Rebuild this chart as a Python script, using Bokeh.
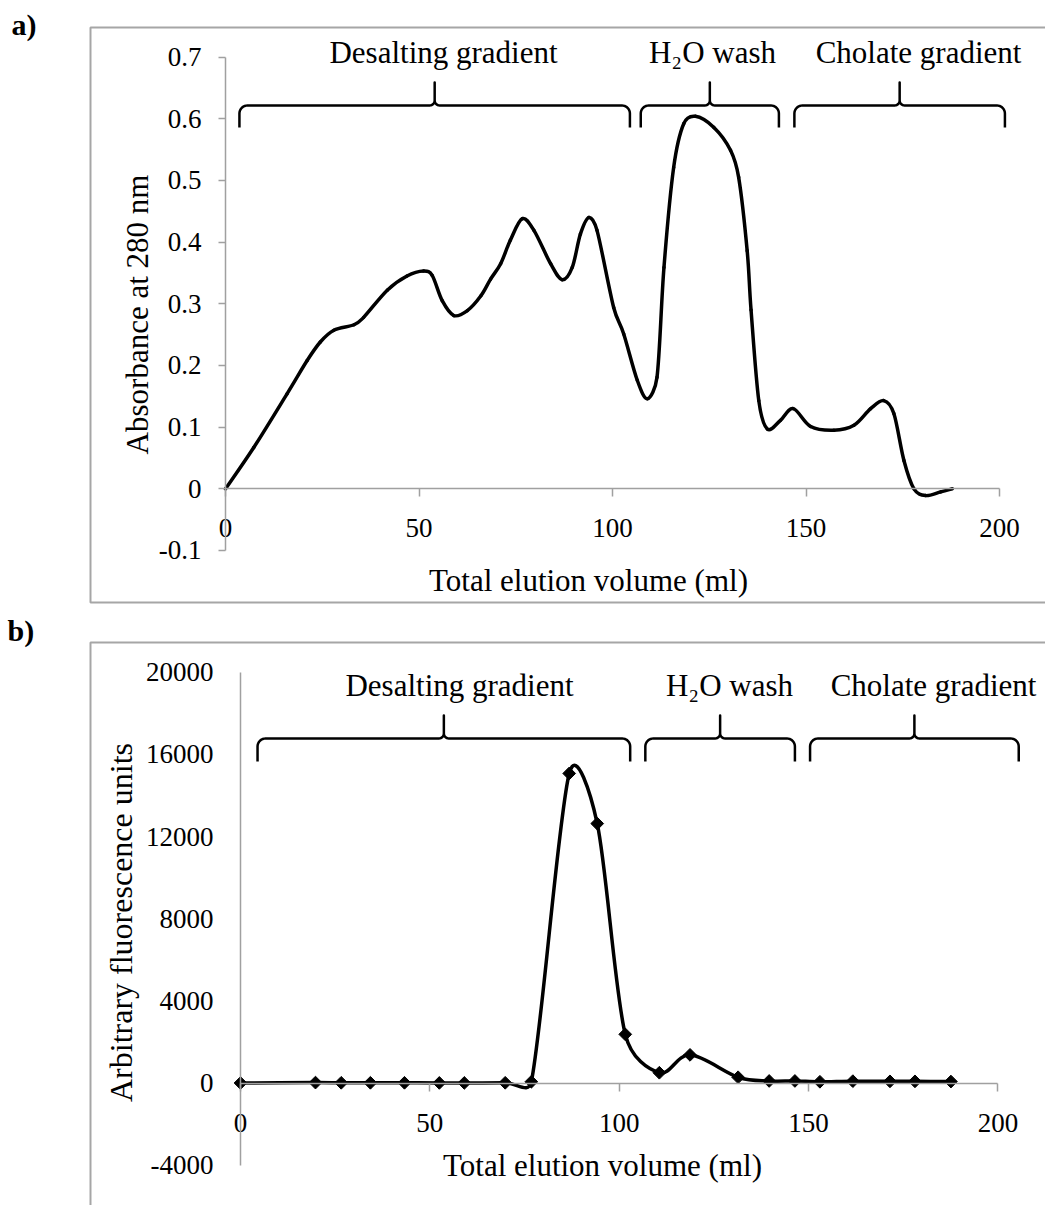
import math
import numpy as np
from bokeh.plotting import figure
from bokeh.models import Range1d, LinearAxis, FixedTicker, Label, BoxAnnotation
from bokeh.layouts import column
from bokeh.embed import file_html
from bokeh.resources import INLINE

# ---------------- data ----------------
# a) absorbance at 280 nm vs total elution volume (ml)
abs_volume = [0, 7.3, 15.9, 21.1, 24.5, 28.0, 33.2, 35.7, 41.8, 46.9, 51.2, 53.4, 56.0, 59.0,
              62.5, 66.0, 68.5, 71.1, 73.6, 76.7, 79.7, 84.0, 87.0, 89.6, 91.7, 93.9, 96.0,
              100.3, 102.9, 106.4, 109.0, 111.5, 113.3, 115.8, 118.4, 121.4, 126.2, 130.5,
              132.6, 134.8, 135.8, 137.8, 140.0, 143.4, 146.7, 151.2, 157.2, 162.4, 166.7,
              170.1, 172.7, 175.3, 177.9, 180.9, 184.8, 187.8]
abs_280 = [0, 0.067, 0.154, 0.208, 0.238, 0.257, 0.266, 0.278, 0.322, 0.345, 0.353, 0.346,
           0.305, 0.281, 0.289, 0.313, 0.340, 0.365, 0.403, 0.438, 0.419, 0.365, 0.339, 0.359,
           0.413, 0.440, 0.419, 0.294, 0.251, 0.176, 0.146, 0.181, 0.359, 0.521, 0.592, 0.604,
           0.586, 0.549, 0.505, 0.386, 0.290, 0.143, 0.097, 0.111, 0.130, 0.101, 0.095, 0.103,
           0.130, 0.143, 0.122, 0.046, 0.0, -0.011, -0.005, 0.0]

# b) fluorescence vs total elution volume (ml)
fl_volume = [0, 19.8, 26.6, 34.3, 43.3, 52.5, 59.1, 69.9, 76.8, 86.8, 94.2, 101.6, 110.6,
             118.7, 131.4, 139.6, 146.4, 153.0, 161.7, 171.5, 178.1, 187.6]
fl_units = [0, 20, 10, 10, 10, 5, 5, 10, 60, 15070, 12630, 2370, 500, 1370, 280, 100, 100,
            60, 90, 80, 80, 70]

x_ticks = [0, 50, 100, 150, 200]
x_labels = ["0", "50", "100", "150", "200"]
abs_ticks = [-0.1, 0, 0.1, 0.2, 0.3, 0.4, 0.5, 0.6, 0.7]
abs_labels = ["-0.1", "0", "0.1", "0.2", "0.3", "0.4", "0.5", "0.6", "0.7"]
fl_ticks = [-4000, 0, 4000, 8000, 12000, 16000, 20000]
fl_labels = ["-4000", "0", "4000", "8000", "12000", "16000", "20000"]

phases = ["Desalting gradient", "H\u2082O wash", "Cholate gradient"]
phase_start_a = [3.6, 107.3, 147.0]
phase_end_a = [104.5, 143.0, 201.4]
phase_start_b = [4.5, 106.9, 150.4]
phase_end_b = [102.9, 146.4, 205.5]

# ---------------- style ----------------
FONT = "Liberation Serif"
AXIS_GRAY = "#a0a0a0"
BOX_GRAY = "#a6a6a6"
W = 1045


def excel_smooth(xs, ys, sx, sy):
    P = np.column_stack([np.asarray(xs, float) * sx, np.asarray(ys, float) * sy])
    n = len(P)
    out = {k: [] for k in ("x0", "y0", "x1", "y1", "cx0", "cy0", "cx1", "cy1")}
    for i in range(n - 1):
        p0 = P[i - 1] if i > 0 else P[i]
        p1 = P[i]
        p2 = P[i + 1]
        p3 = P[i + 2] if i + 2 < n else P[i + 1]
        d = math.hypot(*(p2 - p1))
        t1 = (p2 - p0) / 6.0
        t2 = (p3 - p1) / 6.0
        L1 = math.hypot(*t1)
        L2 = math.hypot(*t2)
        if L1 > d / 2 and L1 > 0:
            t1 = t1 * (d / 2) / L1
        if L2 > d / 2 and L2 > 0:
            t2 = t2 * (d / 2) / L2
        c1 = p1 + t1
        c2 = p2 - t2
        out["x0"].append(p1[0] / sx); out["y0"].append(p1[1] / sy)
        out["x1"].append(p2[0] / sx); out["y1"].append(p2[1] / sy)
        out["cx0"].append(c1[0] / sx); out["cy0"].append(c1[1] / sy)
        out["cx1"].append(c2[0] / sx); out["cy1"].append(c2[1] / sy)
    return out


def make_panel(H, x0px, sx, y0px, sy):
    p = figure(width=W, height=H,
               x_range=Range1d(-x0px / sx, (W - x0px) / sx),
               y_range=Range1d(-(H - y0px) / sy, y0px / sy),
               output_backend="svg", toolbar_location=None,
               x_axis_location=None, y_axis_location=None,
               min_border=0, min_border_left=0, min_border_right=0,
               min_border_top=0, min_border_bottom=0)
    p.outline_line_color = None
    p.grid.visible = False
    p.background_fill_color = "white"
    p.border_fill_color = "white"
    return p


def brace_path(xl, xr, y_bar, y_tip, y_end, r=8.0, r2=5.0):
    xm = (xl + xr) / 2.0
    pts = [(xl, y_end)]
    for t in np.linspace(np.pi, np.pi / 2, 10):
        pts.append((xl + r + r * np.cos(t), y_bar + r - r * np.sin(t)))
    for t in np.linspace(-np.pi / 2, 0, 8):
        pts.append((xm - r2 + r2 * np.cos(t), y_bar - r2 - r2 * np.sin(t)))
    pts.append((xm, y_tip))
    for t in np.linspace(np.pi, 1.5 * np.pi, 8):
        pts.append((xm + r2 + r2 * np.cos(t), y_bar - r2 - r2 * np.sin(t)))
    for t in np.linspace(np.pi / 2, 0, 10):
        pts.append((xr - r + r * np.cos(t), y_bar + r - r * np.sin(t)))
    pts.append((xr, y_end))
    return pts


def style_axis(ax, tick_out, standoff):
    ax.axis_line_color = AXIS_GRAY
    ax.axis_line_width = 1.5
    ax.major_tick_line_color = AXIS_GRAY
    ax.major_tick_line_width = 1.5
    ax.major_tick_out = tick_out
    ax.major_tick_in = 0
    ax.minor_tick_out = 0
    ax.minor_tick_in = 0
    ax.major_label_standoff = standoff
    ax.major_label_text_font = FONT
    ax.major_label_text_font_size = "27px"
    ax.major_label_text_color = "black"


def build(H, page_top, x0px, sx, y0px, sy, xs_data, ys_data, yticks, ylabels, ybounds,
          starts, ends, ytick_out, ytick_standoff, xstandoff,
          brace_y, text_base, text_cx, box_top, box_bottom, xtitle, ytitle, ytitle_pos,
          panel_lbl, markers):
    p = make_panel(H, x0px, sx, y0px, sy)
    X = lambda px: (px - x0px) / sx
    Y = lambda py: (y0px - (py - page_top)) / sy

    # frame box
    box = BoxAnnotation(left=X(90), right=X(1300), top=Y(box_top), bottom=Y(box_bottom),
                        fill_alpha=0, line_color=BOX_GRAY, line_width=2, line_alpha=1)
    p.add_layout(box)

    # axes crossing at zero
    xa = LinearAxis(fixed_location=0, bounds=(x_ticks[0], x_ticks[-1]),
                    ticker=FixedTicker(ticks=x_ticks),
                    major_label_overrides=dict(zip(x_ticks, x_labels)))
    style_axis(xa, 8, xstandoff)
    p.add_layout(xa, "below")
    ya = LinearAxis(fixed_location=0, bounds=ybounds,
                    ticker=FixedTicker(ticks=yticks),
                    major_label_overrides=dict(zip(yticks, ylabels)))
    style_axis(ya, ytick_out, ytick_standoff)
    p.add_layout(ya, "left")

    # braces
    bxs, bys = [], []
    for s, e in zip(starts, ends):
        pts = brace_path(x0px + s * sx, x0px + e * sx,
                         brace_y[1] - page_top, brace_y[0] - page_top, brace_y[2] - page_top)
        bxs.append([(q[0] - x0px) / sx for q in pts])
        bys.append([(y0px - q[1]) / sy for q in pts])
    p.multi_line(bxs, bys, line_color="black", line_width=2.5, line_join="round")
    for name, cx in zip(phases, text_cx):
        p.add_layout(Label(x=X(cx), y=Y(text_base), text=name, text_align="center",
                           text_baseline="alphabetic", text_font=FONT,
                           text_font_size="31px", text_color="black"))

    # series
    seg = excel_smooth(xs_data, ys_data, sx, sy)
    p.bezier(x0="x0", y0="y0", x1="x1", y1="y1", cx0="cx0", cy0="cy0", cx1="cx1", cy1="cy1",
             source=seg, line_color="black", line_width=3.5, line_cap="round")
    if markers:
        p.scatter(xs_data, ys_data, marker="square", angle=math.pi / 4, size=9,
                  fill_color="black", line_color="black")

    # titles
    p.add_layout(Label(x=X(xtitle[0]), y=Y(xtitle[1]), text="Total elution volume (ml)",
                       text_align="center", text_baseline="alphabetic", text_font=FONT,
                       text_font_size="31px", text_color="black"))
    p.add_layout(Label(x=X(ytitle_pos[0]), y=Y(ytitle_pos[1]), text=ytitle, angle=math.pi / 2,
                       text_align="center", text_baseline="alphabetic", text_font=FONT,
                       text_font_size=ytitle_pos[2], text_color="black"))
    p.add_layout(Label(x=X(panel_lbl[1]), y=Y(panel_lbl[2]), text=panel_lbl[0],
                       text_align="left", text_baseline="alphabetic", text_font=FONT,
                       text_font_size="30px", text_font_style="bold", text_color="black"))
    return p


SPLIT = 604  # page row where panel b's canvas begins

pa = build(H=SPLIT, page_top=0, x0px=225, sx=3.87, y0px=488.3, sy=616.7,
           xs_data=abs_volume, ys_data=abs_280, yticks=abs_ticks, ylabels=abs_labels,
           ybounds=(-0.1, 0.7), starts=phase_start_a, ends=phase_end_a,
           ytick_out=7, ytick_standoff=17, xstandoff=22,
           brace_y=(82, 105, 127), text_base=52, text_cx=(443, 712, 918),
           box_top=27, box_bottom=602,
           xtitle=(588, 580), ytitle="Absorbance at 280 nm", ytitle_pos=(137, 314, "31px"),
           panel_lbl=("a)", 11, 24), markers=False)

pb = build(H=1205 - SPLIT, page_top=SPLIT, x0px=240, sx=3.787, y0px=1082.5 - SPLIT,
           sy=0.02054,
           xs_data=fl_volume, ys_data=fl_units, yticks=fl_ticks, ylabels=fl_labels,
           ybounds=(-4000, 20000), starts=phase_start_b, ends=phase_end_b,
           ytick_out=0, ytick_standoff=27, xstandoff=23,
           brace_y=(715, 738, 761), text_base=685, text_cx=(459, 729, 933),
           box_top=642, box_bottom=1400,
           xtitle=(602, 1165), ytitle="Arbitrary fluorescence units",
           ytitle_pos=(120, 922, "32px"),
           panel_lbl=("b)", 7, 630), markers=True)

layout = column(pa, pb, spacing=0)
open("out.html", "w").write(file_html(layout, INLINE))
